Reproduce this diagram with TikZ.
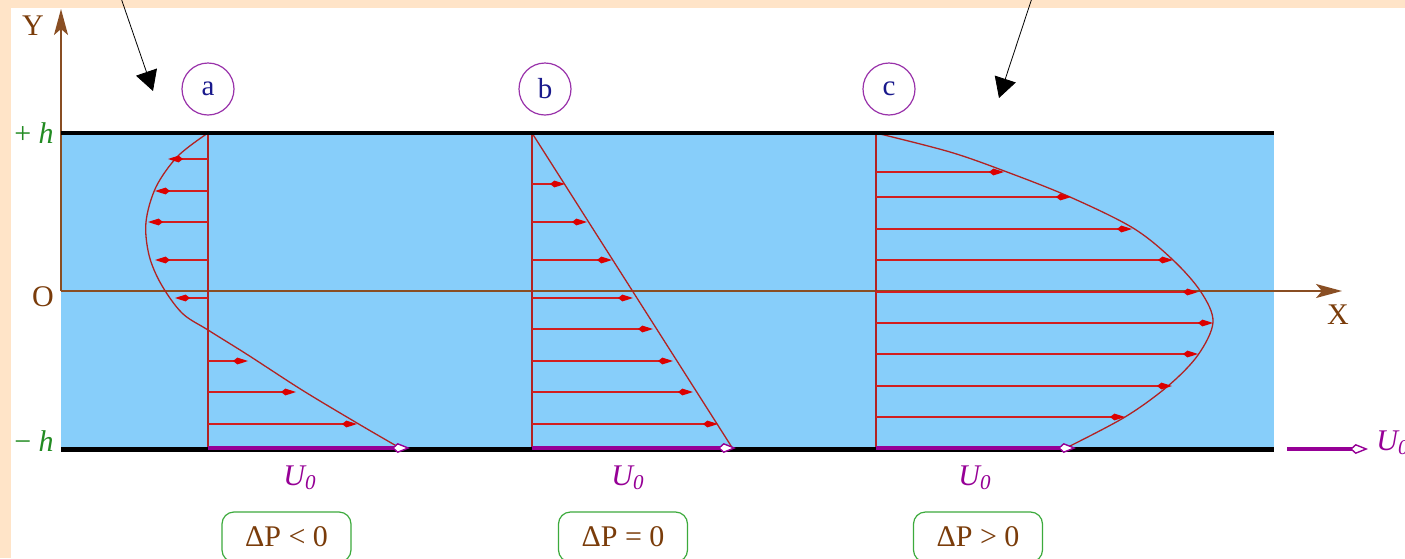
\documentclass[tikz,border=0pt]{standalone}
\usepackage{fontspec}
\setmainfont{Liberation Serif}
\usetikzlibrary{arrows.meta}
\definecolor{beige}{RGB}{255,228,200}
\definecolor{sky}{RGB}{135,206,250}
\definecolor{axisbrown}{RGB}{139,69,19}
\definecolor{labelbrown}{RGB}{122,60,10}
\definecolor{hgreen}{RGB}{34,139,34}
\definecolor{boxgreen}{RGB}{60,170,60}
\definecolor{circpurple}{RGB}{153,50,170}
\definecolor{letternavy}{RGB}{25,25,140}
\definecolor{upurple}{RGB}{150,0,150}
\definecolor{velred}{RGB}{210,30,30}
\definecolor{headred}{RGB}{220,0,0}
\definecolor{curvered}{RGB}{178,34,34}
\tikzset{
  wall/.style={line width=2.4pt,black},
  axisline/.style={line width=0.75pt,axisbrown!85!gray,-{Stealth[length=13pt,width=7pt,inset=3pt]}},
  vel/.style={line width=0.65pt,velred,-{Kite[length=7.5pt,width=3.4pt,inset=2.2pt,color=headred]}},
  prof/.style={line width=0.65pt,curvered},
  ubar/.style={line width=1.8pt,upurple,-{Kite[length=9pt,width=5pt,inset=2.8pt,fill=white,line width=0.7pt]}},
  lettercirc/.style={circle,draw=circpurple,line width=0.6pt,minimum size=26pt,inner sep=0pt,text=letternavy,font=\fontsize{14.5}{16}\selectfont},
  ulabel/.style={text=upurple,font=\fontsize{15}{17}\selectfont\itshape},
  pbox/.style={draw=boxgreen,line width=0.6pt,rounded corners=6pt,minimum width=64.5pt,minimum height=25pt,text=labelbrown,font=\fontsize{15}{17}\selectfont},
  axlabel/.style={text=labelbrown,font=\fontsize{15}{17}\selectfont},
  hlabel/.style={text=hgreen,font=\fontsize{15}{17}\selectfont},
  pointer/.style={line width=0.4pt,black,-{Triangle[length=10pt,width=11pt]}}
}
\begin{document}
\begin{tikzpicture}[x=0.5pt,y=-0.5pt]
\useasboundingbox (0,0) rectangle (1405,558);
\fill[beige] (0,0) rectangle (1405,558);
\fill[white] (11,8) rectangle (1405,558);
% fluid
\fill[sky] (61,133) rectangle (1274,449);
% axes
\coordinate (O) at (61,291);
\coordinate (Ytip) at (61,9);
\coordinate (Xtip) at (1342,291);
\draw[axisline] (O) -- (Ytip);
\draw[axisline] (O) -- (Xtip);
\node[axlabel] (Ylab) at (33,26) {Y};
\node[axlabel] (Olab) at (43,297) {O};
\node[axlabel] (Xlab) at (1338,315) {X};
\node[hlabel] (hp) at (34,133) {+ \textit{h}};
\node[hlabel] (hm) at (34,441) {− \textit{h}};
% profile a
\draw[prof] (208,133) -- (208,449);
\draw[prof] plot[smooth,tension=0.55] coordinates {(208,133) (178,156) (156,187) (146,222) (149,255) (161,284) (182,313) (208,330) (248,355) (302,390) (357,423) (400,448)};
\foreach \y/\x in {159/168,191/155,222/148,260/155,298/175,361/248,392/296,424/357}
  \draw[vel] (208,\y) -- (\x,\y);
% profile b
\draw[prof] (532,133) -- (532,449);
\draw[prof] (532,133) -- (733,449);
\foreach \y/\x in {184/565,222/587,260/612,298/633,329/653,361/673,392/693,424/718}
  \draw[vel] (532,\y) -- (\x,\y);
% profile c
\draw[prof] (876,133) -- (876,449);
\draw[prof] plot[smooth,tension=0.55] coordinates {(876,133) (950,152) (1007,172) (1070,197) (1133,228) (1173,260) (1201,292) (1213,322) (1198,355) (1168,386) (1125,417) (1066,448)};
\foreach \y/\x in {172/1004,197/1071,229/1132,260/1173,292/1198,323/1213,354/1198,386/1172,417/1125}
  \draw[vel] (876,\y) -- (\x,\y);
% walls
\draw[wall] (61,133) -- (1274,133);
\draw[wall] (61,449.5) -- (1274,449.5);
% moving wall velocity
\draw[ubar] (208,448) -- (410,448);
\draw[ubar] (532,448) -- (736,448);
\draw[ubar] (876,448) -- (1076,448);
\coordinate (Ustart) at (1287,449);
\coordinate (Uend) at (1368,449);
\draw[ubar] (Ustart) -- (Uend);
\node[ulabel,anchor=west,inner sep=0pt] (Ur) at (1376,443) {U\textsubscript{0}};
\node[ulabel] (Ua) at (300,478) {U\textsubscript{0}};
\node[ulabel] (Ub) at (628,478) {U\textsubscript{0}};
\node[ulabel] (Uc) at (975,478) {U\textsubscript{0}};
% letter circles
\node[lettercirc] (ca) at (208,89) {a};
\node[lettercirc] (cb) at (545,89) {b};
\node[lettercirc] (cc) at (889,89) {c};
% pressure boxes
\node[pbox] (pa) at (286.5,537) {ΔP < 0};
\node[pbox] (pb) at (623,537) {ΔP = 0};
\node[pbox] (pc) at (978,537) {ΔP > 0};
% pointers
\coordinate (p1s) at (121,-2);
\coordinate (p1e) at (153,91);
\coordinate (p2s) at (1032,-2);
\coordinate (p2e) at (999,98);
\draw[pointer] (p1s) -- (p1e);
\draw[pointer] (p2s) -- (p2e);
\end{tikzpicture}
\end{document}
